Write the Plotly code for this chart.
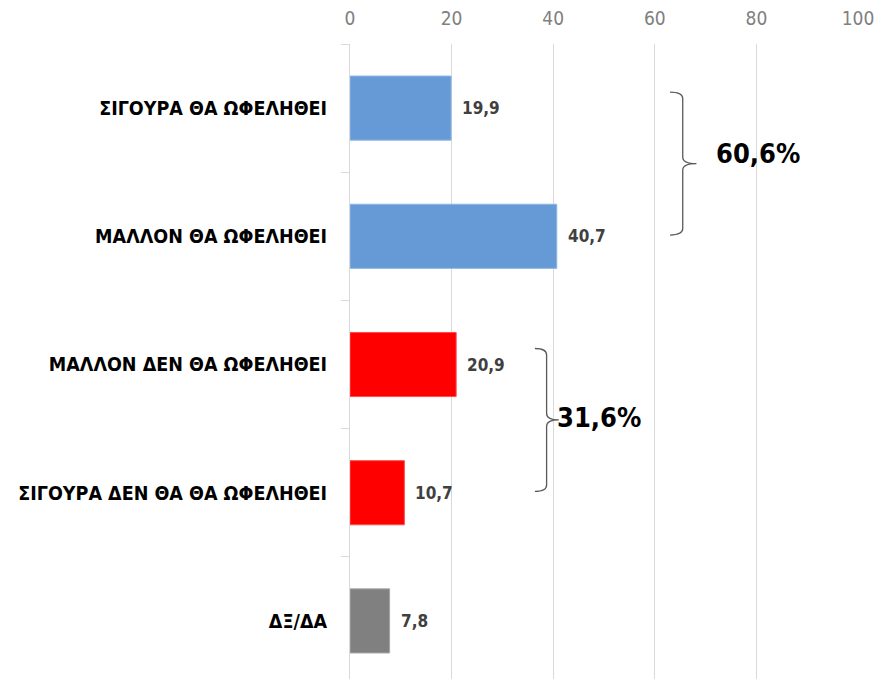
import plotly.graph_objects as go

# ---- data ----
categories = [
    "ΣΙΓΟΥΡΑ ΘΑ ΩΦΕΛΗΘΕΙ",
    "ΜΑΛΛΟΝ ΘΑ ΩΦΕΛΗΘΕΙ",
    "ΜΑΛΛΟΝ ΔΕΝ ΘΑ ΩΦΕΛΗΘΕΙ",
    "ΣΙΓΟΥΡΑ ΔΕΝ ΘΑ ΘΑ ΩΦΕΛΗΘΕΙ",
    "ΔΞ/ΔΑ",
]
values = [19.9, 40.7, 20.9, 10.7, 7.8]
x_ticks = [0, 20, 40, 60, 80, 100]
groups = [(0, 1), (2, 3)]  # category index ranges bracketed with totals

# ---- style ----
bar_colors = ["#659ad6", "#659ad6", "#ff0000", "#ff0000", "#808080"]
bar_edges = ["#8db5e3", "#8db5e3", "#ff4d4d", "#ff4d4d", "#a6a6a6"]
brace_x = [63.0, 36.4]       # x position (axis units) of brace ends
brace_w = [2.5, 2.3]         # distance end -> spine
tip_w = [2.7, 2.4]           # distance spine -> tip
label_x_gap = [3.4, -0.8]
label_y_off = [-0.08, -0.02]
FONT = "DejaVu Sans Condensed, DejaVu Sans, sans-serif"

def fmt(v):
    return f"{v:.1f}".replace(".", ",")

fig = go.Figure()
fig.add_trace(go.Bar(
    x=values, y=categories, orientation="h", width=0.5,
    marker=dict(color=bar_colors, line=dict(color=bar_edges, width=1)),
    hoverinfo="skip",
))

annotations = []
for c, v in zip(categories, values):
    annotations.append(dict(
        x=v, y=c, xref="x", yref="y", text=fmt(v), showarrow=False,
        xanchor="left", yanchor="middle", xshift=9,
        font=dict(family=FONT, size=17, color="#404040", weight="bold"),
    ))

shapes = []
for gi, (i0, i1) in enumerate(groups):
    top = i0 - 0.125
    bot = i1 - 0.01
    tip = (top + bot) / 2
    xe = brace_x[gi]
    xs = xe + brace_w[gi]
    xt = xs + tip_w[gi]
    d = 0.05
    path = (f"M {xe},{top} Q {xs},{top} {xs},{top + d} "
            f"L {xs},{tip - d} Q {xs},{tip} {xt},{tip} "
            f"Q {xs},{tip} {xs},{tip + d} "
            f"L {xs},{bot - d} Q {xs},{bot} {xe},{bot}")
    shapes.append(dict(type="path", path=path, xref="x", yref="y",
                       line=dict(color="#595959", width=1.3)))
    total = sum(values[i0:i1 + 1])
    annotations.append(dict(
        x=xt + label_x_gap[gi], y=tip + label_y_off[gi], xref="x", yref="y",
        text=fmt(total) + "%", showarrow=False,
        xanchor="left", yanchor="middle",
        font=dict(family=FONT, size=27, color="#000000", weight="bold"),
    ))

fig.update_layout(
    width=877, height=679,
    margin=dict(l=350, r=19, t=44, b=0, pad=0),
    paper_bgcolor="white", plot_bgcolor="white",
    showlegend=False,
    bargap=0.5,
    annotations=annotations,
    shapes=shapes,
    xaxis=dict(
        side="top", range=[0, 100], tickvals=x_ticks,
        showgrid=True, gridcolor="#d9d9d9", gridwidth=1,
        zeroline=False, showline=False, ticks="",
        ticklabelstandoff=14,
        tickfont=dict(family=FONT, size=19, color="#808080"),
        automargin=False, fixedrange=True,
    ),
    yaxis=dict(
        type="category", categoryorder="array", categoryarray=categories,
        range=[4.453, -0.5], autorange=False,
        showgrid=False, zeroline=False,
        showline=True, linecolor="#d9d9d9", linewidth=1,
        ticks="outside", tickson="boundaries", ticklen=8, tickcolor="#d9d9d9",
        ticklabelstandoff=18,
        tickfont=dict(family=FONT, size=19.5, color="#000000", weight="bold"),
        automargin=False, fixedrange=True,
    ),
)

fig.write_html(
    "out.html",
    config={"displayModeBar": False},
    post_script="document.body.style.margin='0';document.body.style.overflow='hidden';",
)
